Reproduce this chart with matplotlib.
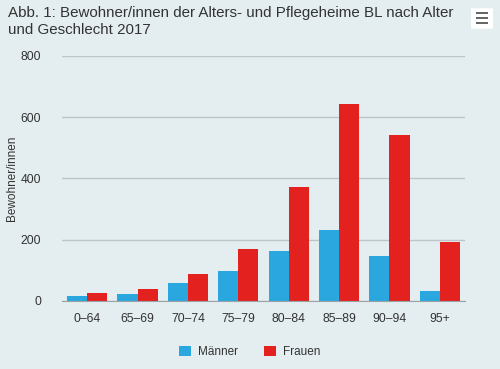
import matplotlib
matplotlib.use("Agg")
import matplotlib.pyplot as plt
from matplotlib.patches import FancyBboxPatch, Rectangle
import numpy as np

categories = ["0–64", "65–69", "70–74", "75–79", "80–84", "85–89", "90–94", "95+"]
maenner = [16, 23, 59, 99, 163, 232, 147, 34]
frauen = [27, 40, 88, 170, 372, 643, 543, 193]
yticks = [0, 200, 400, 600, 800]
title = "Abb. 1: Bewohner/innen der Alters- und Pflegeheime BL nach Alter\nund Geschlecht 2017"
ylabel = "Bewohner/innen"
series_names = ["Männer", "Frauen"]

BG = "#E4EEF0"
BLUE = "#2AA7DF"
RED = "#E3211F"

plt.rcParams['font.family'] = ['Liberation Sans', 'DejaVu Sans']

fig = plt.figure(figsize=(5, 3.69), dpi=100, facecolor=BG)
ax = fig.add_axes([0.124, 0.1843, 0.806, 0.664])
ax.set_facecolor(BG)

x = np.arange(len(categories))
w = 0.4
b1 = ax.bar(x - w/2, maenner, width=w, color=BLUE, zorder=3, label=series_names[0])
b2 = ax.bar(x + w/2, frauen, width=w, color=RED, zorder=3, label=series_names[1])

ax.set_xlim(-0.5, len(categories) - 0.5)
ax.set_ylim(0, 800)
ax.set_yticks(yticks)
ax.set_yticklabels([str(v) for v in yticks])
ax.set_xticks(x)
ax.set_xticklabels(categories)
ax.tick_params(axis='both', length=0, labelsize=8.7, colors="#333333")
ax.tick_params(axis='x', pad=9)
ax.tick_params(axis='y', pad=15)
ax.yaxis.grid(True, color="#BFC5C7", linewidth=1, zorder=0)
for s in ["top", "right", "left"]:
    ax.spines[s].set_visible(False)
ax.spines["bottom"].set_color("#9AA3A6")
ax.spines["bottom"].set_zorder(4)
ax.set_ylabel(ylabel, fontsize=8.5, color="#333333")
ax.yaxis.set_label_coords(-(62 - 18) / 403, 0.5)

fig.text(8/500, 1 - 6/369, title, ha="left", va="top", fontsize=10.9, color="#333333", linespacing=1.25)

leg = fig.legend(handles=[b1, b2], labels=series_names, loc="center", bbox_to_anchor=(0.5, 1 - 352/369),
                 ncol=2, frameon=False, fontsize=8.5, handlelength=1.0, handleheight=1.0,
                 columnspacing=2.2, handletextpad=0.6)
for t in leg.get_texts():
    t.set_color("#333333")

# menu icon
fig.patches.append(FancyBboxPatch((472/500, 1 - 28/369), 20/500, 19/369, boxstyle="round,pad=0.002",
                                  transform=fig.transFigure, facecolor="#FFFFFF", edgecolor="none"))
for yy in [13, 18, 23]:
    fig.patches.append(Rectangle((476/500, 1 - (yy + 1.2)/369), 12/500, 2.4/369,
                                 transform=fig.transFigure, facecolor="#666666", edgecolor="none"))

fig.savefig("out.png", dpi=100, facecolor=BG)
